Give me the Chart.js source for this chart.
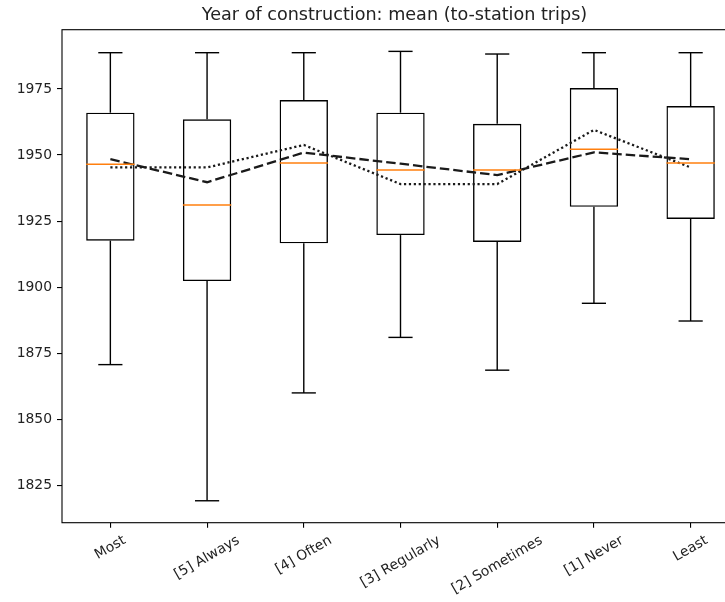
<!DOCTYPE html>
<html>
<head>
<meta charset="utf-8">
<script src="https://cdn.jsdelivr.net/npm/chart.js@4.4.1/dist/chart.umd.min.js"></script>
<style>
  html,body{margin:0;padding:0;background:#fff;overflow:hidden;}
  #wrap{width:760px;height:602px;}
</style>
</head>
<body>
<div id="wrap"><canvas id="c" width="760" height="602"></canvas></div>
<script>
const title = 'Year of construction: mean (to-station trips)';
const categories = ['Most','[5] Always','[4] Often','[3] Regularly','[2] Sometimes','[1] Never','Least'];
const whiskerLow  = [1870.7, 1819.2, 1860.0, 1881.0, 1868.6, 1893.9, 1887.2];
const q1          = [1917.6, 1902.3, 1916.6, 1919.7, 1917.1, 1930.4, 1925.8];
const medians     = [1946.5, 1931.1, 1947.0, 1944.3, 1944.3, 1952.2, 1947.0];
const q3          = [1966.0, 1963.5, 1970.8, 1966.0, 1961.8, 1975.3, 1968.5];
const whiskerHigh = [1988.7, 1988.7, 1988.7, 1989.2, 1988.2, 1988.7, 1988.7];
const dashedSeries = [1948.4, 1939.7, 1950.9, 1946.7, 1942.4, 1951.0, 1948.4];
const dottedSeries = [1945.3, 1945.3, 1953.8, 1939.0, 1939.0, 1959.5, 1945.3];
const yTicks = [1825, 1850, 1875, 1900, 1925, 1950, 1975];
const yMin = 1810.9, yMax = 1997.4;

const FONT = '"DejaVu Sans", sans-serif';
const INK = '#000';
const TXT = '#222';

// whiskers, caps and medians on top of the scales
const boxExtras = {
  id: 'boxExtras',
  afterDatasetsDraw(chart){
    const {ctx, scales:{x, y}} = chart;
    const step = x.getPixelForValue(1) - x.getPixelForValue(0);
    const half = step * 0.25, cap = step * 0.125;
    ctx.save();
    ctx.lineWidth = 1.4; ctx.strokeStyle = INK;
    const seg = (x0,y0,x1,y1) => { ctx.beginPath(); ctx.moveTo(x0,y0); ctx.lineTo(x1,y1); ctx.stroke(); };
    categories.forEach((_, i) => {
      const cx = x.getPixelForValue(i);
      const hi = y.getPixelForValue(whiskerHigh[i]), lo = y.getPixelForValue(whiskerLow[i]);
      seg(cx, y.getPixelForValue(q3[i]), cx, hi);
      seg(cx, y.getPixelForValue(q1[i]), cx, lo);
      seg(cx-cap, hi, cx+cap, hi);
      seg(cx-cap, lo, cx+cap, lo);
    });
    ctx.strokeStyle = '#ff7f0e';
    categories.forEach((_, i) => {
      const cx = x.getPixelForValue(i), my = y.getPixelForValue(medians[i]);
      seg(cx-half, my, cx+half, my);
    });
    ctx.restore();
  }
};

// frame, title and the rotated category labels
const decor = {
  id: 'decor',
  afterDraw(chart){
    const {ctx, chartArea:a, scales:{x}} = chart;
    ctx.save();
    ctx.strokeStyle = INK; ctx.lineWidth = 1.1;
    ctx.strokeRect(a.left, a.top, a.right - a.left, a.bottom - a.top);

    ctx.fillStyle = TXT;
    ctx.font = '17.6px ' + FONT;
    ctx.textAlign = 'center'; ctx.textBaseline = 'alphabetic';
    ctx.fillText(title, (a.left + a.right) / 2 - 6, 19.5);

    const fs = 13.9, th = fs * 1.17, rot = 30 * Math.PI / 180;
    ctx.font = fs + 'px ' + FONT;
    ctx.textBaseline = 'middle';
    categories.forEach((lab, i) => {
      const w = ctx.measureText(lab).width;
      const bh = w * Math.sin(rot) + th * Math.cos(rot);
      const top = a.bottom + 9.7;
      ctx.save();
      ctx.translate(x.getPixelForTick(i), top + bh / 2);
      ctx.rotate(-rot);
      ctx.fillText(lab, 0, 0);
      ctx.restore();
    });
    ctx.restore();
  }
};

new Chart(document.getElementById('c'), {
  type: 'bar',
  data: {
    labels: categories,
    datasets: [
      { type:'line', data: dashedSeries, borderColor:'#1a1a1a', borderWidth:2.3, borderDash:[9.5,4],
        pointRadius:0, fill:false, tension:0 },
      { type:'line', data: dottedSeries, borderColor:'#1a1a1a', borderWidth:2.3, borderDash:[2.2,2.7],
        pointRadius:0, fill:false, tension:0 },
      { type:'bar', data: q1.map((v,i) => [v, q3[i]]), backgroundColor:'rgba(255,255,255,0)',
        borderColor: INK, borderWidth:1.4, borderSkipped:false, barPercentage:0.5, categoryPercentage:1.0 }
    ]
  },
  options: {
    responsive:false, animation:false, devicePixelRatio:1,
    layout:{ padding:{ top:29.7, right:21, bottom:0, left:0 } },
    plugins:{ legend:{display:false}, title:{display:false}, tooltip:{enabled:false} },
    scales:{
      x:{
        offset:true,
        grid:{ display:true, drawOnChartArea:false, drawTicks:true, tickLength:5, color:INK, lineWidth:1.1, offset:false },
        border:{ display:false },
        ticks:{ display:false },
        afterFit(s){ s.height = 602 - 522.7; }
      },
      y:{
        min:yMin, max:yMax,
        afterBuildTicks(s){ s.ticks = yTicks.map(v => ({value:v})); },
        grid:{ display:true, drawOnChartArea:false, drawTicks:true, tickLength:5, color:INK, lineWidth:1.1 },
        border:{ display:false },
        ticks:{ color:TXT, padding:5, font:{ family:FONT, size:13.9 }, callback:v => String(v) },
        afterFit(s){ s.width = 62; }
      }
    }
  },
  plugins:[boxExtras, decor]
});
</script>
</body>
</html>
